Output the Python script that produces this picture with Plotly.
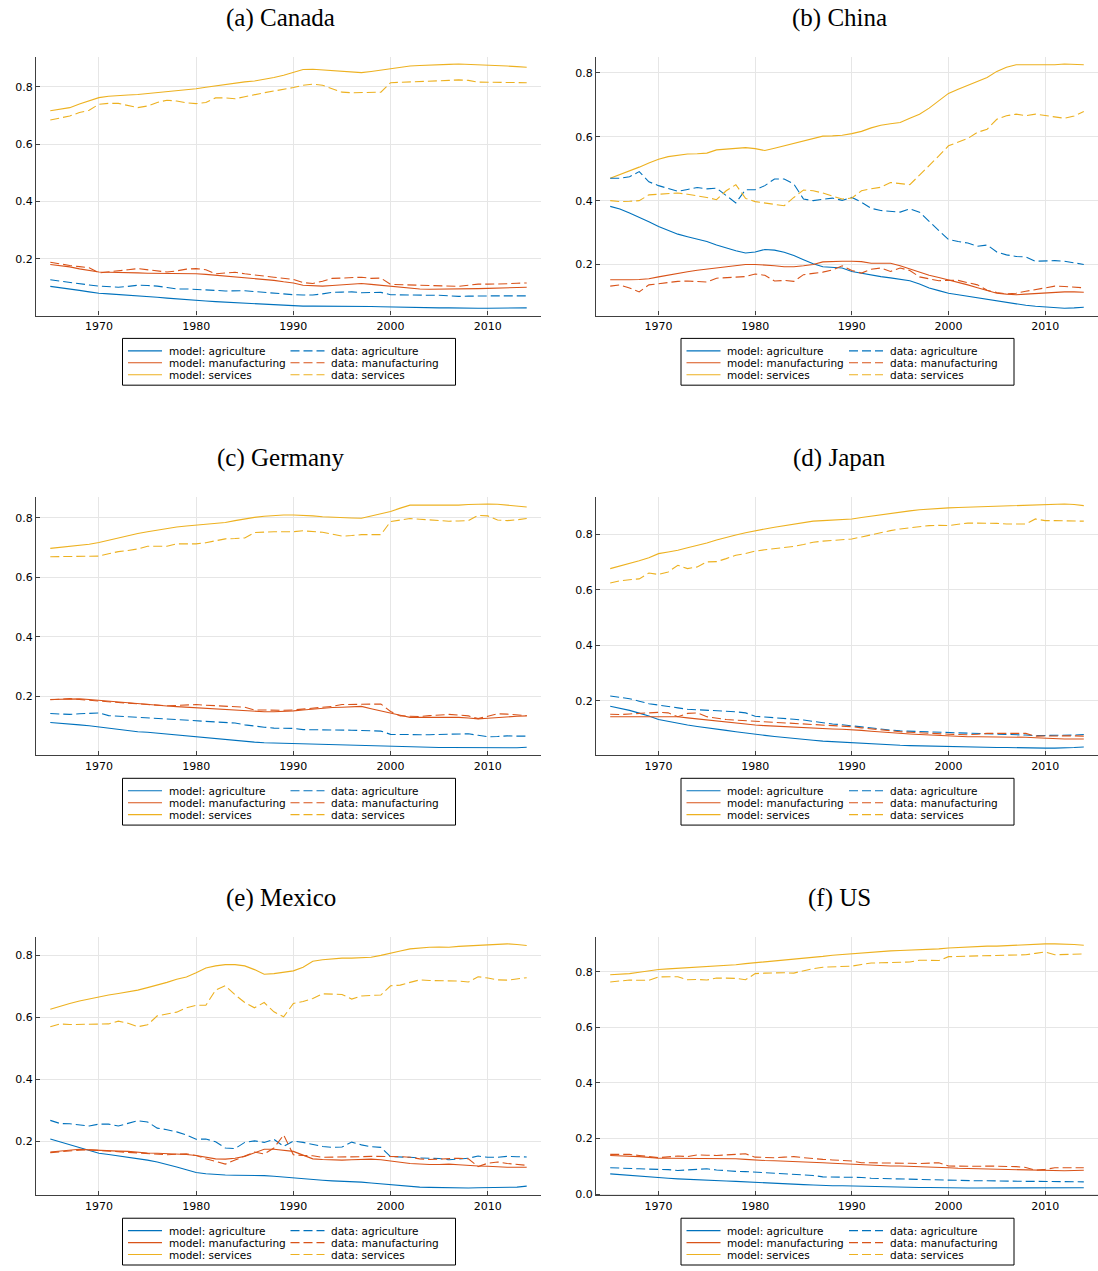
import plotly.graph_objects as go

YEARS = list(range(1965, 2015))

SERIES_LABELS = ["model: agriculture", "model: manufacturing", "model: services",
                 "data: agriculture", "data: manufacturing", "data: services"]
SECTOR_COLORS = ["#0072BD", "#D95319", "#EDB120"]
X_TICKS = [1970, 1980, 1990, 2000, 2010]
Y_TICKS = [0.0, 0.2, 0.4, 0.6, 0.8]

# ---- Canada ----
CAN_MODEL_AGR = [
    .104, .100, .095, .090, .085, .080, .078, .076, .073, .071,
    .069, .066, .063, .060, .058, .055, .053, .051, .049, .048,
    .046, .044, .042, .040, .038, .037, .035, .035, .035, .036,
    .036, .036, .035, .034, .033, .032, .031, .030, .030, .029,
    .029, .029, .028, .028, .028, .028, .028, .028, .029, .029]
CAN_MODEL_MAN = [
    .180, .176, .172, .165, .159, .154, .153, .153, .152, .151,
    .150, .150, .150, .149, .149, .148, .146, .143, .140, .138,
    .136, .133, .129, .125, .120, .116, .108, .106, .105, .107,
    .110, .112, .114, .111, .108, .105, .100, .097, .095, .094,
    .094, .094, .095, .096, .096, .097, .098, .099, .100, .101]
CAN_MODEL_SER = [
    .716, .721, .727, .740, .752, .762, .767, .770, .771, .773,
    .776, .780, .784, .787, .789, .793, .798, .803, .808, .813,
    .817, .820, .825, .832, .840, .851, .860, .861, .859, .857,
    .854, .851, .849, .853, .858, .862, .868, .872, .874, .876,
    .877, .878, .879, .878, .877, .875, .873, .872, .870, .868]
CAN_DATA_AGR = [
    .127, .122, .117, .112, .109, .105, .103, .101, .104, .108,
    .107, .105, .100, .095, .095, .094, .092, .090, .088, .089,
    .089, .086, .083, .080, .077, .075, .074, .074, .078, .083,
    .084, .085, .082, .083, .083, .075, .074, .073, .073, .073,
    .073, .071, .069, .070, .071, .071, .071, .071, .071, .071]
CAN_DATA_MAN = [
    .188, .182, .177, .173, .169, .151, .154, .157, .162, .166,
    .162, .157, .154, .158, .164, .166, .162, .148, .150, .153,
    .148, .143, .140, .136, .132, .128, .117, .114, .122, .132,
    .133, .134, .136, .132, .133, .111, .110, .109, .108, .107,
    .106, .105, .104, .108, .112, .112, .112, .113, .115, .116]
CAN_DATA_SER = [
    .684, .690, .698, .710, .718, .739, .742, .742, .735, .727,
    .733, .745, .753, .750, .744, .741, .745, .761, .761, .758,
    .765, .773, .779, .785, .790, .797, .805, .809, .805, .792,
    .781, .779, .779, .781, .781, .814, .815, .816, .818, .819,
    .820, .822, .824, .822, .816, .816, .816, .815, .815, .814]

# ---- China ----
CHN_MODEL_AGR = [
    .382, .374, .361, .348, .334, .319, .306, .295, .287, .280,
    .272, .261, .251, .243, .236, .239, .247, .245, .238, .228,
    .215, .202, .193, .191, .189, .178, .172, .166, .162, .158,
    .154, .149, .139, .126, .118, .110, .105, .100, .095, .091,
    .085, .080, .076, .072, .069, .067, .065, .063, .064, .066]
CHN_MODEL_MAN = [
    .152, .151, .152, .153, .155, .161, .167, .173, .177, .182,
    .186, .190, .194, .197, .200, .200, .199, .196, .193, .193,
    .196, .200, .208, .210, .210, .210, .209, .204, .204, .204,
    .196, .186, .176, .166, .159, .152, .144, .136, .127, .119,
    .110, .107, .105, .107, .109, .111, .114, .114, .114, .113]
CHN_MODEL_SER = [
    .470, .481, .492, .505, .518, .530, .538, .543, .546, .547,
    .549, .559, .562, .564, .566, .563, .557, .564, .572, .580,
    .587, .596, .602, .603, .605, .610, .617, .628, .636, .641,
    .645, .658, .671, .690, .713, .736, .749, .761, .772, .786,
    .805, .818, .826, .826, .826, .825, .826, .828, .826, .826]
CHN_DATA_AGR = [
    .470, .470, .475, .491, .459, .447, .438, .429, .435, .441,
    .437, .439, .416, .393, .434, .434, .447, .468, .468, .452,
    .405, .400, .404, .408, .401, .410, .395, .376, .369, .366,
    .364, .374, .364, .335, .306, .278, .272, .267, .257, .261,
    .239, .230, .225, .224, .210, .211, .212, .210, .205, .200]
CHN_DATA_MAN = [
    .132, .136, .126, .114, .136, .140, .145, .147, .148, .146,
    .145, .157, .159, .162, .162, .170, .166, .148, .150, .147,
    .168, .172, .176, .183, .196, .181, .173, .185, .189, .178,
    .189, .181, .161, .155, .149, .150, .150, .143, .136, .119,
    .112, .108, .110, .116, .121, .126, .132, .131, .129, .127]
CHN_DATA_SER = [
    .400, .397, .398, .400, .418, .420, .422, .424, .420, .416,
    .410, .403, .431, .450, .407, .397, .392, .388, .384, .410,
    .433, .431, .424, .414, .405, .408, .431, .437, .442, .457,
    .454, .450, .480, .509, .540, .572, .584, .595, .614, .624,
    .655, .666, .671, .666, .671, .666, .662, .658, .665, .679]

# ---- Germany ----
DEU_MODEL_AGR = [
    .113, .111, .108, .105, .102, .098, .094, .089, .085, .082,
    .080, .077, .074, .071, .066, .063, .060, .057, .055, .052,
    .049, .047, .045, .044, .043, .042, .041, .040, .039, .039,
    .038, .038, .037, .036, .034, .033, .031, .030, .030, .029,
    .029, .029, .029, .028, .028, .028, .027, .027, .028, .030]
DEU_MODEL_MAN = [
    .190, .191, .191, .192, .190, .187, .184, .181, .178, .175,
    .172, .170, .168, .166, .164, .163, .161, .159, .157, .154,
    .152, .150, .149, .149, .150, .152, .155, .158, .161, .163,
    .164, .166, .167, .159, .151, .144, .137, .130, .130, .131,
    .131, .131, .130, .128, .125, .127, .130, .132, .134, .135]
DEU_MODEL_SER = [
    .697, .700, .703, .706, .711, .717, .725, .733, .740, .747,
    .753, .759, .765, .769, .772, .775, .778, .781, .784, .790,
    .796, .801, .805, .808, .809, .809, .808, .806, .803, .801,
    .800, .799, .798, .806, .813, .821, .832, .842, .842, .842,
    .841, .841, .842, .844, .846, .846, .845, .842, .839, .836]
DEU_DATA_AGR = [
    .143, .141, .140, .142, .144, .145, .136, .134, .131, .129,
    .127, .126, .124, .122, .119, .117, .115, .114, .113, .111,
    .105, .100, .097, .094, .094, .093, .089, .089, .089, .089,
    .089, .087, .086, .085, .084, .073, .072, .072, .072, .072,
    .073, .073, .074, .075, .070, .065, .066, .068, .067, .067]
DEU_DATA_MAN = [
    .189, .191, .193, .190, .187, .185, .182, .180, .178, .176,
    .175, .172, .169, .170, .172, .173, .171, .169, .166, .164,
    .164, .155, .154, .153, .154, .155, .158, .161, .164, .167,
    .173, .173, .173, .174, .175, .150, .135, .134, .133, .136,
    .138, .140, .138, .135, .126, .134, .142, .141, .138, .136]
DEU_DATA_SER = [
    .669, .669, .670, .670, .671, .671, .679, .686, .690, .695,
    .704, .704, .704, .712, .712, .712, .716, .722, .729, .730,
    .732, .750, .752, .753, .753, .753, .756, .753, .751, .745,
    .738, .740, .743, .743, .743, .787, .792, .797, .795, .793,
    .791, .788, .789, .790, .808, .806, .792, .790, .793, .797]

# ---- Japan ----
JPN_MODEL_AGR = [
    .181, .174, .166, .156, .146, .133, .126, .119, .113, .108,
    .104, .099, .094, .089, .084, .080, .076, .072, .068, .064,
    .061, .058, .055, .053, .050, .048, .046, .045, .043, .041,
    .040, .039, .038, .037, .037, .036, .035, .034, .034, .033,
    .032, .032, .031, .031, .030, .030, .030, .030, .032, .034]
JPN_MODEL_MAN = [
    .143, .143, .143, .143, .143, .143, .143, .143, .139, .135,
    .131, .127, .123, .119, .116, .113, .111, .109, .107, .105,
    .103, .101, .100, .099, .098, .097, .094, .091, .088, .086,
    .083, .081, .079, .077, .075, .073, .072, .071, .071, .071,
    .071, .071, .071, .069, .067, .065, .064, .063, .063, .063]
JPN_MODEL_SER = [
    .677, .686, .695, .705, .716, .731, .737, .743, .752, .760,
    .769, .780, .790, .798, .806, .814, .820, .826, .832, .838,
    .843, .848, .850, .852, .854, .856, .861, .866, .872, .876,
    .880, .885, .889, .892, .894, .896, .897, .898, .899, .900,
    .901, .902, .903, .904, .906, .908, .909, .910, .908, .904]
JPN_DATA_AGR = [
    .218, .213, .208, .199, .190, .185, .181, .175, .170, .168,
    .166, .165, .164, .161, .157, .145, .142, .140, .137, .134,
    .131, .126, .121, .117, .114, .110, .105, .101, .098, .095,
    .092, .091, .090, .089, .087, .086, .085, .084, .083, .082,
    .080, .080, .079, .077, .075, .075, .075, .076, .077, .079]
JPN_DATA_MAN = [
    .152, .151, .153, .155, .157, .159, .157, .143, .155, .157,
    .143, .138, .133, .131, .129, .127, .125, .123, .122, .120,
    .119, .117, .115, .113, .110, .107, .103, .099, .095, .092,
    .089, .087, .085, .083, .080, .080, .079, .078, .080, .083,
    .083, .083, .083, .083, .073, .074, .075, .074, .074, .073]
JPN_DATA_SER = [
    .625, .633, .637, .640, .661, .656, .665, .689, .677, .683,
    .701, .702, .713, .725, .731, .740, .745, .749, .753, .757,
    .764, .772, .776, .778, .780, .784, .791, .799, .807, .814,
    .820, .824, .828, .832, .833, .832, .837, .841, .841, .841,
    .840, .838, .838, .838, .856, .850, .850, .850, .849, .848]

# ---- Mexico ----
MEX_MODEL_AGR = [
    .207, .198, .190, .181, .172, .161, .157, .153, .149, .144,
    .139, .133, .126, .117, .108, .099, .095, .092, .091, .090,
    .090, .090, .089, .087, .084, .081, .078, .076, .074, .072,
    .071, .070, .068, .065, .062, .060, .056, .053, .052, .051,
    .050, .049, .049, .049, .050, .050, .050, .050, .052, .055]
MEX_MODEL_MAN = [
    .165, .168, .171, .174, .172, .170, .169, .168, .167, .164,
    .162, .161, .160, .159, .157, .154, .149, .143, .142, .145,
    .151, .162, .174, .174, .171, .167, .155, .143, .141, .139,
    .139, .140, .141, .142, .140, .137, .132, .128, .126, .125,
    .125, .126, .124, .121, .120, .119, .117, .116, .116, .116]
MEX_MODEL_SER = [
    .625, .635, .644, .652, .659, .665, .671, .676, .681, .687,
    .695, .703, .712, .722, .729, .743, .758, .765, .769, .769,
    .765, .753, .738, .740, .744, .749, .761, .780, .785, .788,
    .790, .790, .791, .793, .799, .805, .813, .820, .823, .825,
    .826, .825, .828, .830, .831, .832, .836, .836, .834, .831]
MEX_DATA_AGR = [
    .267, .257, .256, .252, .249, .255, .255, .249, .258, .266,
    .262, .242, .237, .230, .220, .206, .207, .198, .178, .176,
    .196, .201, .196, .206, .183, .200, .196, .190, .183, .180,
    .181, .197, .188, .182, .180, .150, .150, .148, .146, .145,
    .144, .140, .142, .145, .152, .148, .148, .151, .150, .149]
MEX_DATA_MAN = [
    .163, .166, .169, .171, .172, .170, .169, .167, .165, .163,
    .162, .160, .156, .158, .159, .154, .143, .135, .126, .139,
    .152, .165, .159, .178, .220, .156, .154, .153, .148, .148,
    .148, .149, .150, .151, .151, .152, .150, .148, .143, .141,
    .142, .143, .145, .143, .118, .129, .133, .128, .124, .122]
MEX_DATA_SER = [
    .569, .578, .576, .576, .576, .576, .578, .587, .580, .569,
    .575, .604, .610, .616, .630, .638, .638, .687, .701, .672,
    .647, .630, .647, .617, .601, .644, .650, .660, .675, .674,
    .673, .658, .668, .670, .671, .701, .703, .712, .720, .718,
    .717, .718, .716, .713, .730, .726, .720, .719, .723, .727]

# ---- US ----
USA_MODEL_AGR = [
    .073, .070, .068, .065, .062, .059, .057, .055, .053, .052,
    .050, .049, .047, .046, .044, .042, .040, .039, .037, .036,
    .034, .033, .031, .030, .030, .029, .028, .027, .026, .026,
    .025, .025, .024, .024, .023, .023, .023, .022, .022, .022,
    .022, .022, .022, .022, .022, .022, .022, .022, .022, .023]
USA_MODEL_MAN = [
    .139, .138, .136, .135, .132, .129, .129, .129, .129, .129,
    .129, .128, .128, .127, .125, .122, .121, .120, .119, .118,
    .117, .115, .113, .111, .109, .107, .105, .103, .102, .101,
    .101, .100, .100, .099, .097, .095, .093, .092, .091, .091,
    .091, .090, .089, .087, .085, .084, .084, .084, .085, .086]
USA_MODEL_SER = [
    .789, .791, .793, .798, .803, .808, .810, .812, .814, .816,
    .818, .820, .822, .825, .829, .832, .836, .839, .842, .845,
    .847, .851, .855, .859, .862, .865, .868, .871, .873, .875,
    .876, .877, .878, .880, .882, .885, .887, .889, .891, .892,
    .892, .894, .896, .898, .899, .900, .900, .900, .898, .895]
USA_DATA_AGR = [
    .095, .093, .091, .091, .090, .090, .088, .085, .087, .090,
    .091, .087, .084, .082, .081, .079, .078, .076, .075, .073,
    .071, .067, .062, .062, .062, .062, .060, .057, .056, .056,
    .055, .054, .053, .051, .051, .050, .049, .049, .048, .048,
    .047, .047, .046, .046, .046, .046, .046, .046, .045, .044]
USA_DATA_MAN = [
    .143, .143, .143, .139, .135, .131, .134, .137, .135, .141,
    .140, .139, .141, .143, .145, .133, .132, .131, .133, .135,
    .131, .127, .125, .123, .121, .119, .113, .113, .113, .113,
    .113, .111, .110, .111, .113, .101, .100, .099, .100, .101,
    .101, .101, .099, .096, .086, .089, .095, .095, .095, .095]
USA_DATA_SER = [
    .763, .766, .770, .769, .769, .781, .782, .782, .771, .772,
    .770, .777, .777, .776, .771, .793, .795, .796, .796, .795,
    .803, .811, .816, .817, .819, .820, .826, .831, .832, .832,
    .834, .835, .841, .841, .840, .854, .855, .856, .857, .857,
    .858, .859, .860, .861, .866, .871, .861, .862, .863, .864]

PANELS = [
    ("(a) Canada", [CAN_MODEL_AGR, CAN_MODEL_MAN, CAN_MODEL_SER, CAN_DATA_AGR, CAN_DATA_MAN, CAN_DATA_SER]),
    ("(b) China", [CHN_MODEL_AGR, CHN_MODEL_MAN, CHN_MODEL_SER, CHN_DATA_AGR, CHN_DATA_MAN, CHN_DATA_SER]),
    ("(c) Germany", [DEU_MODEL_AGR, DEU_MODEL_MAN, DEU_MODEL_SER, DEU_DATA_AGR, DEU_DATA_MAN, DEU_DATA_SER]),
    ("(d) Japan", [JPN_MODEL_AGR, JPN_MODEL_MAN, JPN_MODEL_SER, JPN_DATA_AGR, JPN_DATA_MAN, JPN_DATA_SER]),
    ("(e) Mexico", [MEX_MODEL_AGR, MEX_MODEL_MAN, MEX_MODEL_SER, MEX_DATA_AGR, MEX_DATA_MAN, MEX_DATA_SER]),
    ("(f) US", [USA_MODEL_AGR, USA_MODEL_MAN, USA_MODEL_SER, USA_DATA_AGR, USA_DATA_MAN, USA_DATA_SER]),
]

# ---- page geometry (pixels) ----
W, H = 1098, 1271
COLS = [(36, 541), (596, 1098)]
ROWS = [(57, 317), (499, 759), (941, 1201)]
DASH = "9px,4px"
AXIS_COLOR = "#404040"
GRID_COLOR = "#e6e6e6"
TICK_FONT = dict(family="DejaVu Sans", size=11, color="#000000")
LEGEND_FONT = dict(family="DejaVu Sans", size=10.5, color="#000000")
TITLE_FONT = dict(family="Liberation Serif", size=25, color="#000000")


def px_x(v):
    return v / W


def px_y(v):
    return 1 - v / H


def widened(lo, hi, frac=0.03):
    pad = (hi - lo) * frac
    return [lo - pad, hi + pad]


fig = go.Figure()
shapes = []
annotations = []

for i, (title, series) in enumerate(PANELS):
    n = i + 1
    sfx = "" if n == 1 else str(n)
    x0, x1 = COLS[i % 2]
    y0, y1 = ROWS[i // 2]

    for k, (label, values) in enumerate(zip(SERIES_LABELS, series)):
        fig.add_trace(go.Scatter(
            x=YEARS, y=values, mode="lines", name=label,
            line=dict(color=SECTOR_COLORS[k % 3], width=1.1,
                      dash="solid" if k < 3 else DASH),
            xaxis="x" + sfx, yaxis="y" + sfx, showlegend=False,
        ))

    all_vals = [v for s in series for v in s]
    yr = widened(min(all_vals), max(all_vals))
    xr = widened(YEARS[0], YEARS[-1])

    common = dict(showgrid=True, gridcolor=GRID_COLOR, gridwidth=1,
                  showline=True, linecolor=AXIS_COLOR, linewidth=1.2,
                  ticks="inside", ticklen=4, tickwidth=1, tickcolor=AXIS_COLOR,
                  tickfont=TICK_FONT, zeroline=False, mirror=False)
    fig.update_layout(**{
        "xaxis" + sfx: dict(domain=[px_x(x0), px_x(x1)], range=xr,
                            tickvals=X_TICKS, anchor="y" + sfx, **common),
        "yaxis" + sfx: dict(domain=[px_y(y1), px_y(y0)], range=yr,
                            tickvals=Y_TICKS, tickformat=".1f",
                            anchor="x" + sfx, **common),
    })

    cx = (x0 + x1) / 2
    annotations.append(dict(
        text=title, x=px_x(cx - 8), y=px_y(y0 - 39), xref="paper", yref="paper",
        xanchor="center", yanchor="middle", showarrow=False, font=TITLE_FONT))

    # legend box below each panel: two columns (model | data), three rows
    bl = cx - 166
    bt = y1 + 23
    shapes.append(dict(type="rect", xref="paper", yref="paper",
                       x0=px_x(bl), x1=px_x(bl + 333), y0=px_y(bt + 47), y1=px_y(bt),
                       line=dict(color="#000000", width=1), fillcolor="white", layer="above"))
    for k, label in enumerate(SERIES_LABELS):
        col, row = divmod(k, 3)
        sx = bl + (5.5 if col == 0 else 168)
        ry = bt + 12.5 + 12 * row
        shapes.append(dict(type="line", xref="paper", yref="paper",
                           x0=px_x(sx), x1=px_x(sx + 34), y0=px_y(ry), y1=px_y(ry),
                           line=dict(color=SECTOR_COLORS[k % 3], width=1.1,
                                     dash="solid" if col == 0 else DASH),
                           layer="above"))
        annotations.append(dict(
            text=label, x=px_x(sx + 38.5), y=px_y(ry), xref="paper", yref="paper",
            xanchor="left", yanchor="middle", showarrow=False, font=LEGEND_FONT))

fig.update_layout(
    width=W, height=H, margin=dict(l=0, r=0, t=0, b=0),
    paper_bgcolor="white", plot_bgcolor="white",
    showlegend=False, shapes=shapes, annotations=annotations,
)

fig.write_html("out.html")
